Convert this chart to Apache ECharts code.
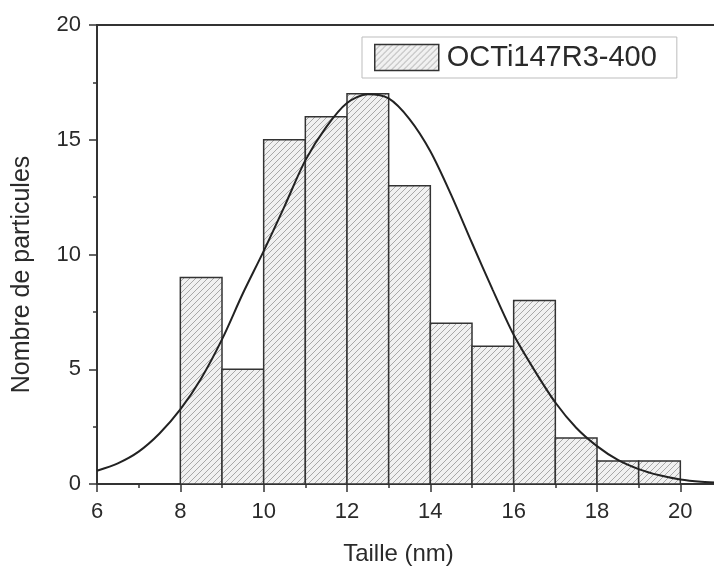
<!DOCTYPE html>
<html>
<head>
<meta charset="utf-8">
<script src="https://cdn.jsdelivr.net/npm/echarts@6/dist/echarts.min.js"></script>
<style>
  html, body { margin: 0; padding: 0; background: #fff; overflow: hidden; }
  /* the frame runs on to 21 nm, just past the right edge of the view */
  #chart { width: 722px; height: 571px; }
</style>
</head>
<body>
<div id="chart"></div>
<script>
// Particle size histogram (bins of 1 nm) with a Gaussian fit curve
const seriesName = 'OCTi147R3-400';
const binStart = [8, 9, 10, 11, 12, 13, 14, 15, 16, 17, 18, 19];
const binWidth = 1;
const counts   = [9, 5, 15, 16, 17, 13, 7, 6, 8, 2, 1, 1];

// Fitted distribution curve, sampled every 0.5 nm along the size axis
const fitX = [6, 6.5, 7, 7.5, 8, 8.5, 9, 9.5, 10, 10.5, 11, 11.5, 12, 12.5, 13, 13.5,
              14, 14.5, 15, 15.5, 16, 16.5, 17, 17.5, 18, 18.5, 19, 19.5, 20, 20.5, 21];
const fitY = [0.58, 0.9, 1.41, 2.2, 3.25, 4.6, 6.3, 8.3, 10.15, 12.1, 14.1, 15.55, 16.6, 16.98, 16.8, 15.9,
              14.5, 12.6, 10.5, 8.45, 6.5, 4.95, 3.55, 2.45, 1.65, 1.05, 0.65, 0.38, 0.2, 0.1, 0.05];

const xTitle = 'Taille (nm)';
const yTitle = 'Nombre de particules';

// Diagonal hatch fill for the bars
function makeHatch() {
  const s = 6;
  const c = document.createElement('canvas');
  c.width = s; c.height = s;
  const g = c.getContext('2d');
  g.fillStyle = '#f1f1f1';
  g.fillRect(0, 0, s, s);
  g.strokeStyle = '#a8a8a8';
  g.lineWidth = 1;
  g.beginPath();
  g.moveTo(0, s); g.lineTo(s, 0);
  g.moveTo(-1, 1); g.lineTo(1, -1);
  g.moveTo(s - 1, s + 1); g.lineTo(s + 1, s - 1);
  g.stroke();
  return { image: c, repeat: 'repeat' };
}
const hatch = makeHatch();

const font = 'Liberation Sans, Arial, sans-serif';
const ink = '#2a2a2a';

const chart = echarts.init(document.getElementById('chart'), null, { renderer: 'canvas' });

chart.setOption({
  animation: false,
  backgroundColor: '#ffffff',
  grid: {
    left: 97, top: 25, bottom: 87, right: 0,
    show: true, borderColor: '#333', borderWidth: 2, backgroundColor: 'transparent'
  },
  legend: {
    left: 362, top: 37,
    padding: [6, 20, 6, 12],
    borderColor: '#bdbdbd', borderWidth: 1,
    itemWidth: 64, itemHeight: 26, itemGap: 8,
    icon: 'rect',
    data: [{
      name: seriesName,
      itemStyle: { color: hatch, borderColor: '#333', borderWidth: 1.5 }
    }],
    textStyle: { fontFamily: font, fontSize: 29, color: ink, padding: [0, 0, 0, 3] }
  },
  xAxis: {
    type: 'value', min: 6, max: 21, interval: 2,
    name: xTitle, nameLocation: 'middle', nameGap: 58,
    nameTextStyle: { fontFamily: font, fontSize: 24, color: ink, padding: [0, 22, 0, 0] },
    axisLine: { onZero: false, lineStyle: { color: '#333', width: 2 } },
    axisTick: { show: true, inside: false, length: 8, lineStyle: { color: '#333', width: 1.5 } },
    minorTick: { show: true, splitNumber: 2, length: 4, lineStyle: { color: '#333', width: 1.5 } },
    axisLabel: { fontFamily: font, fontSize: 22, color: ink, margin: 17, showMaxLabel: false },
    splitLine: { show: false }
  },
  yAxis: {
    type: 'value', min: 0, max: 20, interval: 5,
    name: yTitle, nameLocation: 'middle', nameGap: 62, nameRotate: 90,
    nameTextStyle: { fontFamily: font, fontSize: 25, color: ink, padding: [0, 40, 0, 0] },
    axisLine: { lineStyle: { color: '#333', width: 2 } },
    axisTick: { show: true, inside: false, length: 8, lineStyle: { color: '#333', width: 1.5 } },
    minorTick: { show: true, splitNumber: 2, length: 4, lineStyle: { color: '#333', width: 1.5 } },
    axisLabel: { fontFamily: font, fontSize: 22, color: ink, margin: 16 },
    splitLine: { show: false }
  },
  series: [
    {
      name: seriesName,
      type: 'custom',
      itemStyle: { color: hatch, borderColor: '#333', borderWidth: 1.5 },
      data: binStart.map((x, i) => [x, counts[i]]),
      encode: { x: 0, y: 1 },
      renderItem: function (params, api) {
        const x0 = api.value(0);
        const h = api.value(1);
        const p0 = api.coord([x0, 0]);
        const p1 = api.coord([x0 + binWidth, h]);
        return {
          type: 'rect',
          shape: { x: p0[0], y: p1[1], width: p1[0] - p0[0], height: p0[1] - p1[1] },
          style: { fill: hatch, stroke: '#333', lineWidth: 1.5 }
        };
      },
      z: 2
    },
    {
      name: 'fit',
      type: 'line',
      data: fitX.map((x, i) => [x, fitY[i]]),
      smooth: 0.3,
      showSymbol: false,
      lineStyle: { color: '#222', width: 2 },
      clip: true,
      z: 3
    }
  ]
});
</script>
</body>
</html>
